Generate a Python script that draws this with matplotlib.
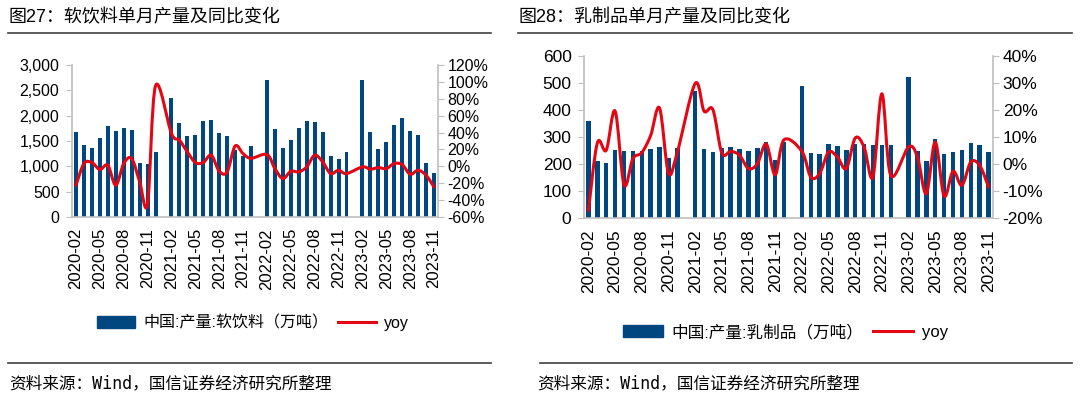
import numpy as np
import matplotlib
matplotlib.use("Agg")
import matplotlib.pyplot as plt
from matplotlib.path import Path
from matplotlib.patches import PathPatch, Patch
from matplotlib.lines import Line2D

plt.rcParams['font.family'] = ['Liberation Sans', 'Noto Sans CJK SC', 'DejaVu Sans']

nan = np.nan

# monthly categories 2020-02 .. 2023-11 (January has no separate data)
months = []
for yr in range(2020, 2024):
    for m in range(1, 13):
        if (yr == 2020 and m < 2) or (yr == 2023 and m > 11):
            continue
        months.append(f"{yr}-{m:02d}")

# 软饮料 单月产量 (万吨) and yoy (%)
soft_drink = [1681, 1418, 1358, 1556, 1800, 1701, 1760, 1708, 1068, 1048, 1292, nan,
              2347, 1853, 1589, 1615, 1886, 1912, 1655, 1602, 1319, 1207, 1411, nan,
              2703, 1734, 1352, 1516, 1760, 1892, 1866, 1675, 1200, 1147, 1292, nan,
              2697, 1675, 1338, 1483, 1820, 1945, 1694, 1609, 1068, 877]
soft_yoy = [-22.4, 3.3, 4.5, -3.8, 1.3, -22.4, 3.3, 9.2, -18.0, -44.0, 95.4, nan,
            38.9, 31.0, 17.0, 4.5, 4.5, 13.2, -5.8, -6.6, 24.0, 15.0, 9.5, nan,
            14.0, -2.7, -14.5, -5.8, -6.6, -0.7, 13.2, 5.3, -8.6, -4.6, -8.6, nan,
            -0.7, -3.4, -1.5, -2.7, 3.3, 2.1, -9.4, -4.6, -10.6, -24.4]

# 乳制品 单月产量 (万吨) and yoy (%)
dairy = [360, 212, 205, 251, 248, 248, 249, 257, 263, 222, 258, nan,
         470, 254, 246, 260, 262, 254, 248, 259, 283, 214, 281, nan,
         490, 241, 237, 273, 268, 251, 274, 274, 269, 269, 269, nan,
         521, 247, 210, 294, 236, 243, 251, 277, 269, 246]
dairy_yoy = [-17.2, 7.8, 5.1, 19.6, -7.7, 2.0, 4.2, 10.6, 20.7, -3.3, 4.4, nan,
             29.8, 19.6, 20.1, 4.1, 4.7, 3.2, -1.7, 0.1, 7.4, -4.0, 9.0, nan,
             4.7, -4.8, -3.6, 4.4, 2.6, -1.7, 9.6, 6.3, -4.8, 26.0, -4.2, nan,
             6.3, 2.6, -11.0, 8.1, -11.9, -2.7, -7.9, 0.7, -0.5, -8.5]

BAR = '#00467F'
RED = '#E30613'
GRID = '#BFBFBF'
W, H = 1080, 398


def smooth_path(x, y):
    # Excel-like smoothed line: cubic bezier through the points, gaps connected
    pts = [(xi, yi) for xi, yi in zip(x, y) if not np.isnan(yi)]
    n = len(pts)
    verts = [pts[0]]
    codes = [Path.MOVETO]
    for i in range(n - 1):
        p0 = pts[max(i - 1, 0)]
        p1 = pts[i]
        p2 = pts[i + 1]
        p3 = pts[min(i + 2, n - 1)]
        c1 = (p1[0] + (p2[0] - p0[0]) / 6, p1[1] + (p2[1] - p0[1]) / 6)
        c2 = (p2[0] - (p3[0] - p1[0]) / 6, p2[1] - (p3[1] - p1[1]) / 6)
        verts += [c1, c2, p2]
        codes += [Path.CURVE4] * 3
    return Path(verts, codes)


def panel(fig, box, vals, yoy, ylim, ystep, rlim, rstep, fs, xfs, fmt_left):
    ax = fig.add_axes([box[0] / W, 1 - box[3] / H, (box[2] - box[0]) / W, (box[3] - box[1]) / H])
    x = np.arange(len(months))
    ax.bar(x, vals, width=0.5, color=BAR, zorder=2)
    ax.set_xlim(-0.5, len(months) - 0.5)
    ax.set_ylim(*ylim)
    ax.set_yticks(np.arange(ylim[0], ylim[1] + 1, ystep))
    ax.set_yticklabels([fmt_left(v) for v in ax.get_yticks()])
    ax.set_xticks(x[::3])
    ax.set_xticklabels(months[::3], rotation=90)
    for s in ['top', 'right']:
        ax.spines[s].set_visible(False)
    for s in ['left', 'bottom']:
        ax.spines[s].set_color(GRID)
        ax.spines[s].set_linewidth(1.2)
    ax.tick_params(axis='y', length=4, color=GRID, labelsize=fs, pad=5)
    ax.tick_params(axis='x', length=0, labelsize=xfs, pad=8)

    ax2 = ax.twinx()
    ax2.set_ylim(*rlim)
    rt = np.arange(rlim[0], rlim[1] + 1, rstep)
    ax2.set_yticks(rt)
    ax2.set_yticklabels([f"{v:.0f}%" for v in rt])
    for s in ['top', 'left', 'bottom']:
        ax2.spines[s].set_visible(False)
    ax2.spines['right'].set_color(GRID)
    ax2.spines['right'].set_linewidth(1.2)
    ax2.tick_params(axis='y', length=4, color=GRID, labelsize=fs, pad=3)
    ax2.add_patch(PathPatch(smooth_path(x, yoy), fill=False, edgecolor=RED,
                            linewidth=2.2, capstyle='round', joinstyle='round', zorder=3))
    return ax, ax2


fig = plt.figure(figsize=(W / 100, H / 100), dpi=100)

# left panel: 软饮料
panel(fig, (72, 65, 438, 217), soft_drink, soft_yoy, (0, 3000), 500, (-60, 120), 20, 11.5, 12,
      lambda v: f"{v:,.0f}")
# right panel: 乳制品
panel(fig, (584, 56, 993, 218), dairy, dairy_yoy, (0, 600), 100, (-20, 40), 10, 12.5, 12.5,
      lambda v: f"{v:.0f}")

# titles and rules
fig.text(8 / W, 1 - 18 / H, "图27：软饮料单月产量及同比变化", fontsize=13, va='center', ha='left')
fig.text(518 / W, 1 - 18 / H, "图28：乳制品单月产量及同比变化", fontsize=13, va='center', ha='left')
for x0, x1 in [(8, 491), (518, 1072)]:
    fig.add_artist(Line2D([x0 / W, x1 / W], [1 - 33 / H] * 2, color='#404040', lw=1.2))
for x0, x1 in [(8, 491), (540, 1072)]:
    fig.add_artist(Line2D([x0 / W, x1 / W], [1 - 363 / H] * 2, color='#404040', lw=1.2))
src_family = ['DejaVu Sans Mono', 'Noto Sans CJK SC']
fig.text(9 / W, 1 - 383 / H, "资料来源：Wind，国信证券经济研究所整理", fontsize=12,
         va='center', ha='left', family=src_family)
fig.text(537 / W, 1 - 383 / H, "资料来源：Wind，国信证券经济研究所整理", fontsize=12,
         va='center', ha='left', family=src_family)

# legends
def legend(label, x, y, fs):
    handles = [Patch(facecolor=BAR, edgecolor=BAR, label=label),
               Line2D([], [], color=RED, lw=2.2, label='yoy')]
    fig.legend(handles=handles, loc='center left', bbox_to_anchor=(x / W, 1 - y / H),
               ncol=2, frameon=False, fontsize=fs, borderpad=0, borderaxespad=0,
               handlelength=2.4, handleheight=0.7, handletextpad=0.5, columnspacing=0.6)

legend("中国:产量:软饮料（万吨）", 97, 323, 11.5)
legend("中国:产量:乳制品（万吨）", 623, 332, 12)

fig.savefig("out.png", dpi=100)
